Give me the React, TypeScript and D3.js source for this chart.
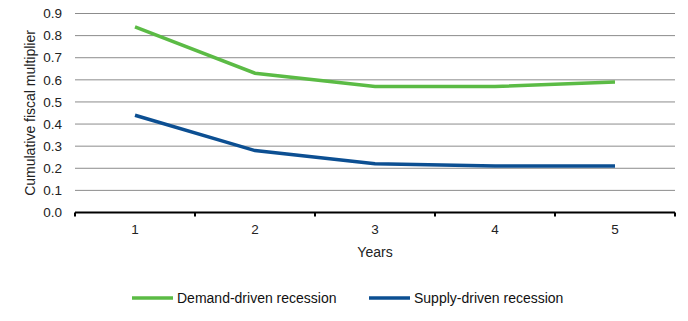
import React from "react";
import * as d3 from "d3";

const years = ["1", "2", "3", "4", "5"];
const demand = [0.84, 0.63, 0.57, 0.57, 0.59];
const supply = [0.44, 0.28, 0.22, 0.21, 0.21];
const yTicks = [0, 0.1, 0.2, 0.3, 0.4, 0.5, 0.6, 0.7, 0.8, 0.9];
const seriesNames = ["Demand-driven recession", "Supply-driven recession"];
const colors = ["#5BBB45", "#0C4F92"];

export default function App() {
  const W = 688, H = 321;
  const left = 75, right = 675, top = 13.5, bottom = 212.5;
  const x = d3.scaleBand<string>().domain(years).range([left, right]);
  const y = d3.scaleLinear().domain([0, 0.9]).range([bottom, top]);
  const line = d3
    .line<number>()
    .x((_, i) => (x(years[i]) as number) + x.bandwidth() / 2)
    .y((d) => y(d));
  const font = "Liberation Sans, Arial, sans-serif";
  const ticksX = [...years.map((c) => x(c) as number), right];
  return (
    <svg width={W} height={H} style={{ position: "absolute", left: 0, top: 0 }} fontFamily={font}>
      {yTicks.slice(1).map((t) => (
        <line key={t} x1={left} x2={right} y1={y(t)} y2={y(t)} stroke="#8c8c8c" strokeWidth={1} />
      ))}
      {yTicks.map((t) => (
        <text key={t} x={62} y={y(t)} dy="0.35em" textAnchor="end" fontSize={13.5} fill="#222">
          {t.toFixed(1)}
        </text>
      ))}
      <line x1={left} x2={right} y1={bottom} y2={bottom} stroke="#000" strokeWidth={2} />
      {ticksX.map((tx, i) => (
        <line key={i} x1={tx} x2={tx} y1={bottom} y2={bottom + 4} stroke="#000" strokeWidth={2} />
      ))}
      {years.map((c) => (
        <text key={c} x={(x(c) as number) + x.bandwidth() / 2} y={234} textAnchor="middle" fontSize={13.5} fill="#222">
          {c}
        </text>
      ))}
      <text x={(left + right) / 2} y={257} textAnchor="middle" fontSize={14} fill="#222">Years</text>
      <text transform={`translate(35,${(top + bottom) / 2}) rotate(-90)`} textAnchor="middle" fontSize={14} fill="#222">
        Cumulative fiscal multiplier
      </text>
      {[demand, supply].map((s, i) => (
        <path key={i} d={line(s) as string} fill="none" stroke={colors[i]} strokeWidth={3.5} />
      ))}
      {seriesNames.map((n, i) => {
        const lx = i === 0 ? 132 : 369;
        return (
          <g key={n}>
            <line x1={lx} x2={lx + 41} y1={298} y2={298} stroke={colors[i]} strokeWidth={3.5} />
            <text x={lx + 45} y={298} dy="0.35em" fontSize={14} fill="#111">{n}</text>
          </g>
        );
      })}
    </svg>
  );
}
